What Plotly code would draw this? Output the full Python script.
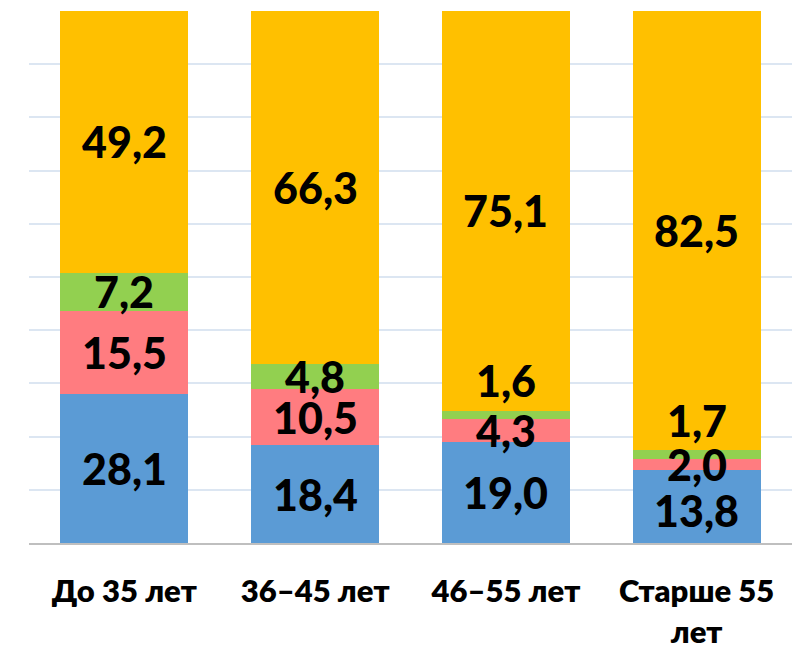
import plotly.graph_objects as go

categories = ["До 35 лет", "36–45 лет", "46–55 лет", "Старше 55<br>лет"]
blue_vals = [28.1, 18.4, 19.0, 13.8]
red_vals = [15.5, 10.5, 4.3, 2.0]
green_vals = [7.2, 4.8, 1.6, 1.7]
yellow_vals = [49.2, 66.3, 75.1, 82.5]
series = [blue_vals, red_vals, green_vals, yellow_vals]
colors = ["#5B9BD5", "#FF7C80", "#92D050", "#FFC000"]
# label shifts (percent units) for labels moved off tiny segments
label_shift = [[0, 0, 0, -0.8], [0, 0, 0, 0], [0, 0, 6.4, 6.4], [0, 0, 0, 0]]

fig = go.Figure()
for vals, col in zip(series, colors):
    fig.add_trace(go.Bar(x=categories, y=vals, marker=dict(color=col, line=dict(width=0)),
                         width=0.67, hoverinfo="skip"))

font = dict(family="Lato, Open Sans, sans-serif", size=43, color="black", weight=900)
annotations = []
for ci, cat in enumerate(categories):
    base = 0
    for si, vals in enumerate(series):
        v = vals[ci]
        annotations.append(dict(x=cat, y=base + v / 2 + label_shift[si][ci], xref="x", yref="y",
                                text=f"{v:.1f}".replace(".", ","),
                                showarrow=False, font=font))
        base += v

fig.update_layout(
    barmode="stack", width=800, height=644, showlegend=False,
    margin=dict(l=21, r=16, t=3, b=109),
    paper_bgcolor="white", plot_bgcolor="white",
    annotations=annotations,
    bargap=0.33,
)
fig.update_yaxes(range=[0, 100], dtick=10, showticklabels=False, showgrid=True,
                 gridcolor="#DCE6F2", gridwidth=1.5, zeroline=False, automargin=False)
fig.update_xaxes(showline=True, linecolor="#BFBFBF", linewidth=2, automargin=False,
                 tickfont=dict(family="Lato, Open Sans, sans-serif", size=31, color="black", weight=800),
                 ticks="", ticklabelstandoff=20)
fig.update_xaxes(ticktext=categories, tickvals=categories)
fig.write_html("out.html")
